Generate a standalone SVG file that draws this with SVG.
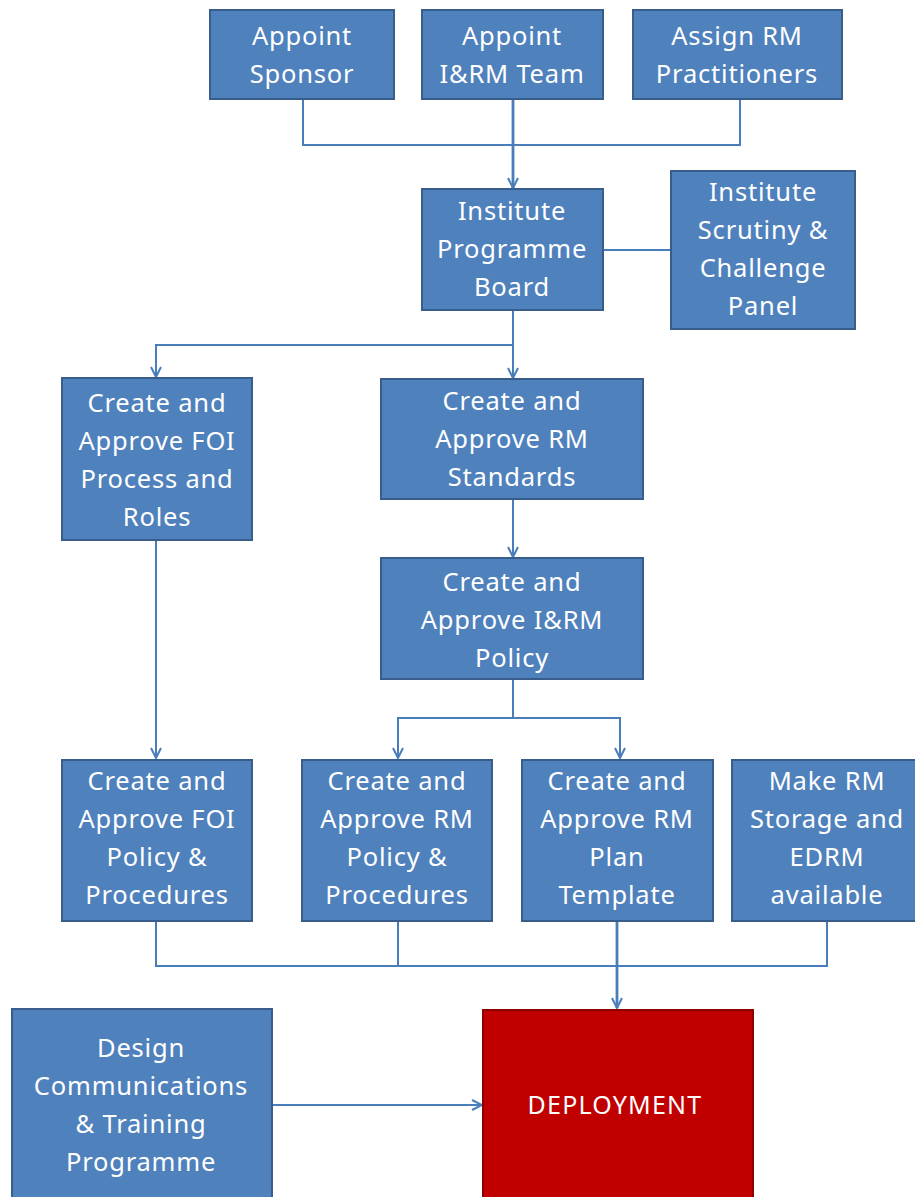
<svg xmlns="http://www.w3.org/2000/svg" width="915" height="1197" viewBox="0 0 915 1197">
<defs>
<marker id="arr" viewBox="0 0 12 12" refX="11" refY="6" markerWidth="12" markerHeight="12" markerUnits="userSpaceOnUse" orient="auto">
<path d="M1,1 L11,6 L1,11" fill="none" stroke="#4A7EBB" stroke-width="2"/>
</marker>
<style>
.box{fill:#4F81BD;stroke:#385D8A;stroke-width:2}
.red{fill:#C00000;stroke:#8C0000;stroke-width:2}
.t{font-family:"Noto Sans","Open Sans","Liberation Sans",sans-serif;font-size:25.5px;letter-spacing:0.8px;fill:#FFFFFF;text-anchor:middle}
.c{fill:none;stroke:#4A7EBB;stroke-width:2}
.k{stroke-width:2.8}
</style>
</defs>
<rect width="915" height="1197" fill="#FFFFFF"/>
<g id="connectors">
<polyline class="c" points="303,99 303,145 740,145 740,99"/>
<line class="c k" x1="513" y1="99" x2="513" y2="188" marker-end="url(#arr)"/>
<line class="c" x1="603" y1="250" x2="671" y2="250"/>
<polyline class="c" points="513,310 513,345 156,345 156,377" marker-end="url(#arr)"/>
<line class="c" x1="513" y1="345" x2="513" y2="378" marker-end="url(#arr)"/>
<line class="c" x1="513" y1="499" x2="513" y2="557" marker-end="url(#arr)"/>
<polyline class="c" points="513,679 513,718 398,718 398,758" marker-end="url(#arr)"/>
<polyline class="c" points="513,718 620,718 620,758" marker-end="url(#arr)"/>
<line class="c" x1="156" y1="540" x2="156" y2="758" marker-end="url(#arr)"/>
<polyline class="c" points="156,921 156,966 827,966 827,921"/>
<line class="c" x1="398" y1="921" x2="398" y2="966"/>
<line class="c k" x1="617" y1="921" x2="617" y2="1008" marker-end="url(#arr)"/>
<line class="c" x1="272" y1="1105" x2="482" y2="1105" marker-end="url(#arr)"/>
</g>
<g id="appoint-sponsor"><rect class="box" x="210" y="10" width="184" height="89"/><text class="t" x="302" y="45">Appoint</text><text class="t" x="302" y="83">Sponsor</text></g>
<g id="appoint-team"><rect class="box" x="422" y="10" width="181" height="89"/><text class="t" x="512" y="45">Appoint</text><text class="t" x="512" y="83">I&amp;RM Team</text></g>
<g id="assign-rm"><rect class="box" x="633" y="10" width="209" height="89"/><text class="t" x="737" y="45">Assign RM</text><text class="t" x="737" y="83">Practitioners</text></g>
<g id="programme-board"><rect class="box" x="422" y="189" width="181" height="121"/><text class="t" x="512" y="220">Institute</text><text class="t" x="512" y="258">Programme</text><text class="t" x="512" y="296">Board</text></g>
<g id="scrutiny-panel"><rect class="box" x="671" y="171" width="184" height="158"/><text class="t" x="763" y="201">Institute</text><text class="t" x="763" y="239">Scrutiny &amp;</text><text class="t" x="763" y="277">Challenge</text><text class="t" x="763" y="315">Panel</text></g>
<g id="foi-process"><rect class="box" x="62" y="378" width="190" height="162"/><text class="t" x="157" y="412">Create and</text><text class="t" x="157" y="450">Approve FOI</text><text class="t" x="157" y="488">Process and</text><text class="t" x="157" y="526">Roles</text></g>
<g id="rm-standards"><rect class="box" x="381" y="379" width="262" height="120"/><text class="t" x="512" y="410">Create and</text><text class="t" x="512" y="448">Approve RM</text><text class="t" x="512" y="486">Standards</text></g>
<g id="irm-policy"><rect class="box" x="381" y="558" width="262" height="121"/><text class="t" x="512" y="591">Create and</text><text class="t" x="512" y="629">Approve I&amp;RM</text><text class="t" x="512" y="667">Policy</text></g>
<g id="foi-policy"><rect class="box" x="62" y="760" width="190" height="161"/><text class="t" x="157" y="790">Create and</text><text class="t" x="157" y="828">Approve FOI</text><text class="t" x="157" y="866">Policy &amp;</text><text class="t" x="157" y="904">Procedures</text></g>
<g id="rm-policy"><rect class="box" x="302" y="760" width="190" height="161"/><text class="t" x="397" y="790">Create and</text><text class="t" x="397" y="828">Approve RM</text><text class="t" x="397" y="866">Policy &amp;</text><text class="t" x="397" y="904">Procedures</text></g>
<g id="rm-plan"><rect class="box" x="522" y="760" width="191" height="161"/><text class="t" x="617" y="790">Create and</text><text class="t" x="617" y="828">Approve RM</text><text class="t" x="617" y="866">Plan</text><text class="t" x="617" y="904">Template</text></g>
<g id="rm-storage"><rect class="box" x="732" y="760" width="190" height="161"/><text class="t" x="827" y="790">Make RM</text><text class="t" x="827" y="828">Storage and</text><text class="t" x="827" y="866">EDRM</text><text class="t" x="827" y="904">available</text></g>
<g id="design-comms"><rect class="box" x="12" y="1009" width="260" height="200"/><text class="t" x="141" y="1057">Design</text><text class="t" x="141" y="1095">Communications</text><text class="t" x="141" y="1133">&amp; Training</text><text class="t" x="141" y="1171">Programme</text></g>
<g id="deployment"><rect class="red" x="483" y="1010" width="270" height="200"/><text class="t" x="615" y="1114" style="font-size:25px;letter-spacing:1.2px">DEPLOYMENT</text></g>
</svg>
